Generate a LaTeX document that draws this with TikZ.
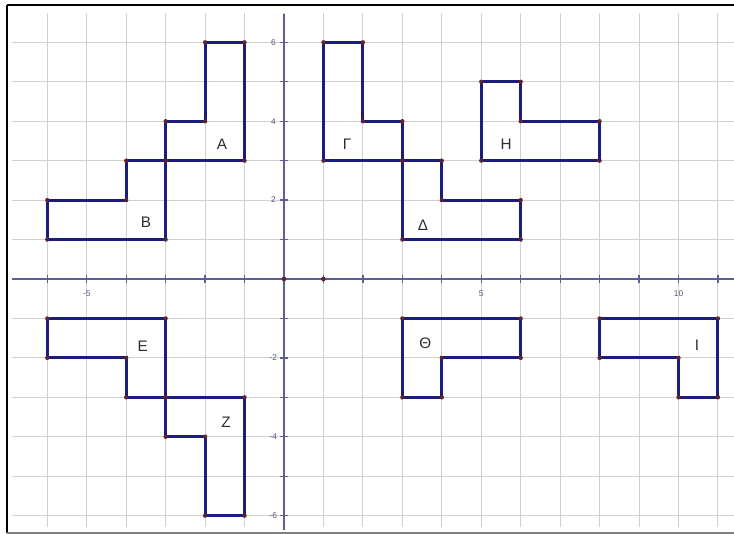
\documentclass[tikz,border=0pt]{standalone}
\usepackage{fontspec}
\setmainfont{Liberation Sans}
\definecolor{gridc}{RGB}{208,208,208}
\definecolor{axisc}{RGB}{95,95,150}
\definecolor{polyc}{RGB}{28,28,125}
\definecolor{dotc}{RGB}{95,35,45}
\definecolor{labc}{RGB}{45,45,45}
\definecolor{tickc}{RGB}{85,85,120}
\tikzset{
  gridline/.style={gridc, line width=0.75pt},
  axisline/.style={axisc, line width=1.4pt},
  tickline/.style={axisc, line width=0.9pt},
  poly/.style={polyc, line width=2.2pt, line join=miter},
  vdot/.style={fill=dotc, draw=none},
  shapelab/.style={text=labc, font=\fontsize{11}{13}\selectfont, inner sep=0pt},
  ticklab/.style={text=tickc, font=\fontsize{6}{7}\selectfont, inner sep=0pt}
}
\begin{document}
\begin{tikzpicture}[x=1cm,y=1cm]
\useasboundingbox (-7.199,-6.464) rectangle (11.407,7.072);
% grid
\foreach \gx in {-6,...,11} \draw[gridline] (\gx,-6.286) -- (\gx,6.743);
\foreach \gy in {-6,...,6} \draw[gridline] (-6.895,\gy) -- (11.407,\gy);
% axes
\draw[axisline] (-6.895,0) -- (11.407,0);
\draw[axisline] (0,-6.36) -- (0,6.72);
\foreach \gx in {-6,...,11} \draw[tickline] (\gx,-0.09) -- (\gx,0.09);
\foreach \gy in {-6,...,6} \draw[tickline] (-0.09,\gy) -- (0.09,\gy);
% tick labels
\foreach \gy in {6,4,2,-2,-4,-6} \node[ticklab] (ty\gy) at (-0.27,\gy) {\gy};
\node[ticklab] (txm5) at (-5,-0.36) {-5};
\node[ticklab] (tx5) at (5,-0.36) {5};
\node[ticklab] (tx10) at (10,-0.36) {10};
% origin dots
\fill[vdot] (0,0) circle (0.06);
\fill[vdot] (1,0) circle (0.06);
% polygons
\def\shapeA{(-2,6) -- (-1,6) -- (-1,3) -- (-3,3) -- (-3,4) -- (-2,4) -- cycle}
\draw[poly] (-2,6) -- (-1,6) -- (-1,3) -- (-3,3) -- (-3,4) -- (-2,4) -- cycle;
\draw[poly] (-6,2) -- (-4,2) -- (-4,3) -- (-3,3) -- (-3,1) -- (-6,1) -- cycle;
\draw[poly] (1,6) -- (2,6) -- (2,4) -- (3,4) -- (3,3) -- (1,3) -- cycle;
\draw[poly] (3,3) -- (4,3) -- (4,2) -- (6,2) -- (6,1) -- (3,1) -- cycle;
\draw[poly] (5,5) -- (6,5) -- (6,4) -- (8,4) -- (8,3) -- (5,3) -- cycle;
\draw[poly] (-6,-1) -- (-3,-1) -- (-3,-3) -- (-4,-3) -- (-4,-2) -- (-6,-2) -- cycle;
\draw[poly] (-3,-3) -- (-1,-3) -- (-1,-6) -- (-2,-6) -- (-2,-4) -- (-3,-4) -- cycle;
\draw[poly] (3,-1) -- (6,-1) -- (6,-2) -- (4,-2) -- (4,-3) -- (3,-3) -- cycle;
\draw[poly] (8,-1) -- (11,-1) -- (11,-3) -- (10,-3) -- (10,-2) -- (8,-2) -- cycle;
% vertex dots
\foreach \p in {(-2,6),(-1,6),(-1,3),(-3,3),(-3,4),(-2,4),
  (-6,2),(-4,2),(-4,3),(-3,1),(-6,1),
  (1,6),(2,6),(2,4),(3,4),(3,3),(1,3),
  (4,3),(4,2),(6,2),(6,1),(3,1),
  (5,5),(6,5),(6,4),(8,4),(8,3),(5,3),
  (-6,-1),(-3,-1),(-3,-3),(-4,-3),(-4,-2),(-6,-2),
  (-1,-3),(-1,-6),(-2,-6),(-2,-4),(-3,-4),
  (3,-1),(6,-1),(6,-2),(4,-2),(4,-3),(3,-3),
  (8,-1),(11,-1),(11,-3),(10,-3),(10,-2),(8,-2)}
  \fill[vdot] \p circle (0.055);
% shape labels
\node[shapelab] (lA) at (-1.57,3.42) {A};
\node[shapelab] (lB) at (-3.5,1.45) {B};
\node[shapelab] (lG) at (1.6,3.42) {Γ};
\node[shapelab] (lD) at (3.52,1.35) {Δ};
\node[shapelab] (lH) at (5.63,3.42) {Η};
\node[shapelab] (lE) at (-3.58,-1.7) {Ε};
\node[shapelab] (lZ) at (-1.47,-3.62) {Ζ};
\node[shapelab] (lTh) at (3.58,-1.62) {Θ};
\node[shapelab] (lI) at (10.47,-1.68) {Ι};
% frame
\draw[black, line width=1.5pt] (-7.022,6.945) -- (11.407,6.945);
\draw[black, line width=1.5pt] (-7.022,6.945) -- (-7.022,-6.439);
\draw[gray, line width=0.8pt] (-7.022,-6.439) -- (11.407,-6.439);
\end{tikzpicture}
\end{document}
